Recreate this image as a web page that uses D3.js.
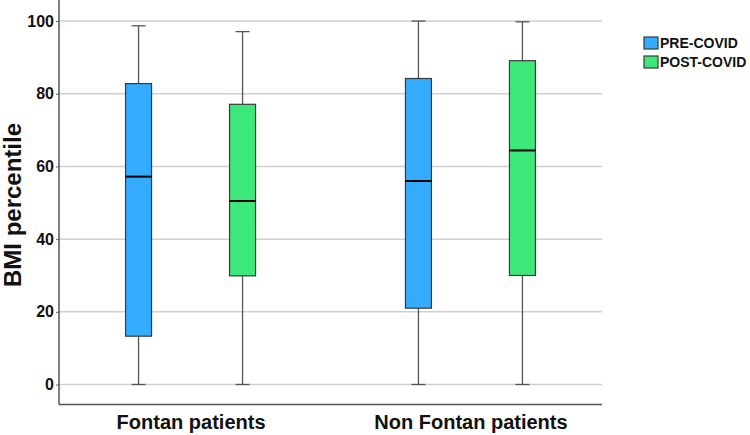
<!DOCTYPE html>
<html>
<head>
<meta charset="utf-8">
<script src="https://cdn.jsdelivr.net/npm/d3@7"></script>
<style>
  body { margin: 0; background: #fff; }
  text { font-family: "Liberation Sans", Arial, sans-serif; font-weight: bold; fill: #111; }
</style>
</head>
<body>
<div id="chart"></div>
<script>
// data
var groups = ["Fontan patients", "Non Fontan patients"];
var periods = ["PRE-COVID", "POST-COVID"];
var colors = ["#33acff", "#3de87b"];
var yTicks = [0, 20, 40, 60, 80, 100];

// [min, q1, median, q3, max] per group, per period
var preCovid  = [[0, 13.3, 57.2, 82.8, 98.7], [0, 21.0, 56.0, 84.2, 100]];
var postCovid = [[0, 29.9, 50.5, 77.1, 97.1], [0, 30.0, 64.4, 89.1, 99.8]];

var width = 750, height = 435;
var plotLeft = 59, plotRight = 602, plotTop = 0, plotBottom = 404.5;

var svg = d3.select("#chart")
    .append("svg")
    .attr("width", width)
    .attr("height", height);

var y = d3.scaleLinear().domain([-5.5, 105.8]).range([plotBottom, plotTop]);
var x = d3.scalePoint().domain(groups).range([plotLeft, plotRight]).padding(0.47);
var sub = d3.scalePoint().domain(periods).range([-52, 52]);

// gridlines
svg.selectAll(".grid")
    .data(yTicks)
    .enter()
    .append("line")
    .attr("x1", plotLeft).attr("x2", plotRight)
    .attr("y1", function(d) { return y(d); })
    .attr("y2", function(d) { return y(d); })
    .attr("stroke", "#cfcfcf")
    .attr("stroke-width", 1.5);

// y axis
var yAxis = svg.append("g")
    .attr("transform", "translate(" + plotLeft + ",0)")
    .call(d3.axisLeft(y).tickValues(yTicks).tickSize(3).tickPadding(2));
yAxis.select(".domain").remove();
yAxis.selectAll(".tick line").attr("stroke", "#666");
yAxis.selectAll("text").style("font-size", "16px").style("font-family", "Liberation Sans, Arial, sans-serif").style("font-weight", "bold").attr("fill", "#111");

svg.append("line")
    .attr("x1", plotLeft).attr("x2", plotLeft).attr("y1", plotTop).attr("y2", plotBottom)
    .attr("stroke", "#555").attr("stroke-width", 1.5);

// x axis
var xAxis = svg.append("g")
    .attr("transform", "translate(0," + plotBottom + ")")
    .call(d3.axisBottom(x).tickSize(0).tickPadding(10));
xAxis.select(".domain").remove();
xAxis.selectAll("text").style("font-size", "20px").style("font-family", "Liberation Sans, Arial, sans-serif").style("font-weight", "bold").attr("fill", "#111");

svg.append("line")
    .attr("x1", plotLeft).attr("x2", plotRight).attr("y1", plotBottom).attr("y2", plotBottom)
    .attr("stroke", "#555").attr("stroke-width", 1.5);

// y label
svg.append("text")
    .attr("transform", "translate(21,205) rotate(-90)")
    .attr("text-anchor", "middle")
    .style("font-size", "24px")
    .text("BMI percentile");

// boxes
var boxes = [];
groups.forEach(function(g, i) {
    boxes.push({ group: g, period: periods[0], color: colors[0], s: preCovid[i] });
    boxes.push({ group: g, period: periods[1], color: colors[1], s: postCovid[i] });
});

var boxW = 26, capW = 14;

var bx = svg.selectAll(".box")
    .data(boxes)
    .enter()
    .append("g")
    .attr("class", "box")
    .attr("transform", function(d) { return "translate(" + (x(d.group) + sub(d.period)) + ",0)"; });

// whiskers
bx.append("line")
    .attr("x1", 0).attr("x2", 0)
    .attr("y1", function(d) { return y(d.s[4]); })
    .attr("y2", function(d) { return y(d.s[3]); })
    .attr("stroke", "#555").attr("stroke-width", 1.3);
bx.append("line")
    .attr("x1", 0).attr("x2", 0)
    .attr("y1", function(d) { return y(d.s[1]); })
    .attr("y2", function(d) { return y(d.s[0]); })
    .attr("stroke", "#555").attr("stroke-width", 1.3);
bx.append("line")
    .attr("x1", -capW / 2).attr("x2", capW / 2)
    .attr("y1", function(d) { return y(d.s[4]); })
    .attr("y2", function(d) { return y(d.s[4]); })
    .attr("stroke", "#555").attr("stroke-width", 1.3);
bx.append("line")
    .attr("x1", -capW / 2).attr("x2", capW / 2)
    .attr("y1", function(d) { return y(d.s[0]); })
    .attr("y2", function(d) { return y(d.s[0]); })
    .attr("stroke", "#555").attr("stroke-width", 1.3);

bx.append("rect")
    .attr("x", -boxW / 2)
    .attr("width", boxW)
    .attr("y", function(d) { return y(d.s[3]); })
    .attr("height", function(d) { return y(d.s[1]) - y(d.s[3]); })
    .attr("fill", function(d) { return d.color; })
    .attr("stroke", "#3a3a3a")
    .attr("stroke-width", 1.2);

bx.append("line")
    .attr("x1", -boxW / 2).attr("x2", boxW / 2)
    .attr("y1", function(d) { return y(d.s[2]); })
    .attr("y2", function(d) { return y(d.s[2]); })
    .attr("stroke", "#000").attr("stroke-width", 2);

// legend
var legend = svg.selectAll(".legend")
    .data(periods)
    .enter()
    .append("g")
    .attr("class", "legend")
    .attr("transform", function(d, i) { return "translate(644," + (37 + i * 19) + ")"; });
legend.append("rect")
    .attr("width", 14).attr("height", 12)
    .attr("fill", function(d, i) { return colors[i]; })
    .attr("stroke", "#3a3a3a").attr("stroke-width", 1.2);
legend.append("text")
    .attr("x", 16).attr("y", 11)
    .style("font-size", "14px")
    .text(function(d) { return d; });
</script>
</body>
</html>
